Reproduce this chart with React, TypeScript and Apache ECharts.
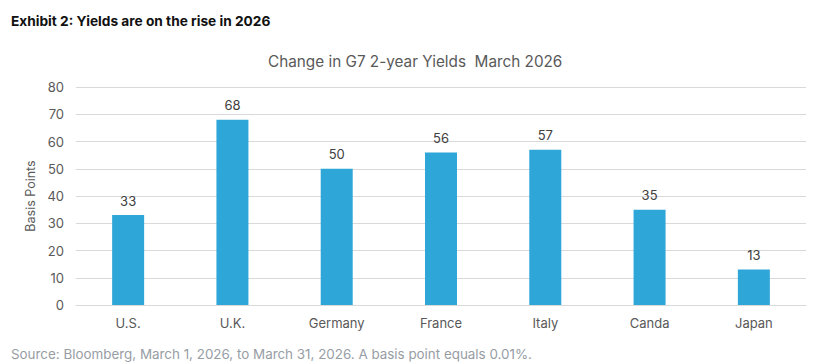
import React, { useEffect, useRef } from "react";
import * as echarts from "echarts";

const categories = ["U.S.", "U.K.", "Germany", "France", "Italy", "Canda", "Japan"];
const values = [33, 68, 50, 56, 57, 35, 13];
const headline = "Exhibit 2: Yields are on the rise in 2026";
const chartTitle = "Change in G7 2-year Yields  March 2026";
const yAxisName = "Basis Points";
const source = "Source: Bloomberg, March 1, 2026, to March 31, 2026. A basis point equals 0.01%.";

export default function App() {
  const ref = useRef<HTMLDivElement>(null);
  useEffect(() => {
    if (!ref.current) return;
    const chart = echarts.init(ref.current, null, { renderer: "svg" });
    const font = "Inter, 'Noto Sans', sans-serif";
    chart.setOption({
      animation: false,
      backgroundColor: "#ffffff",
      textStyle: { fontFamily: font },
      title: [
        {
          text: headline,
          left: 6,
          top: 9,
          textStyle: { fontSize: 13.7, fontWeight: "bold", color: "#111111", fontFamily: font },
        },
        {
          text: chartTitle,
          left: 263,
          top: 49,
          textStyle: { fontSize: 15.3, fontWeight: "normal", color: "#595959", fontFamily: font },
        },
        {
          text: source,
          left: 6,
          top: 342,
          textStyle: { fontSize: 13.4, fontWeight: "normal", color: "#979da4", fontFamily: font },
        },
      ],
      grid: { left: 76, right: 8, top: 87, bottom: 57 },
      xAxis: {
        type: "category",
        data: categories,
        axisLine: { show: true, lineStyle: { color: "#d9d9d9" } },
        axisTick: { show: false },
        axisLabel: { color: "#595959", fontSize: 13, margin: 11, fontFamily: font },
      },
      yAxis: {
        type: "value",
        min: 0,
        max: 80,
        interval: 10,
        name: yAxisName,
        nameLocation: "middle",
        nameGap: 32,
        nameTextStyle: { color: "#595959", fontSize: 12.5, fontFamily: font },
        axisLine: { show: false },
        axisTick: { show: false },
        axisLabel: { color: "#595959", fontSize: 13, margin: 12, fontFamily: font },
        splitLine: { lineStyle: { color: "#d9d9d9" } },
      },
      series: [
        {
          type: "bar",
          data: values,
          barWidth: 32,
          itemStyle: { color: "#2ea6d8" },
          label: {
            show: true,
            position: "top",
            distance: 8,
            color: "#404040",
            fontSize: 13,
            fontFamily: font,
          },
        },
      ],
    });
    return () => chart.dispose();
  }, []);
  return (
    <div
      ref={ref}
      style={{ position: "fixed", left: 0, top: 0, width: 814, height: 362 }}
    />
  );
}
